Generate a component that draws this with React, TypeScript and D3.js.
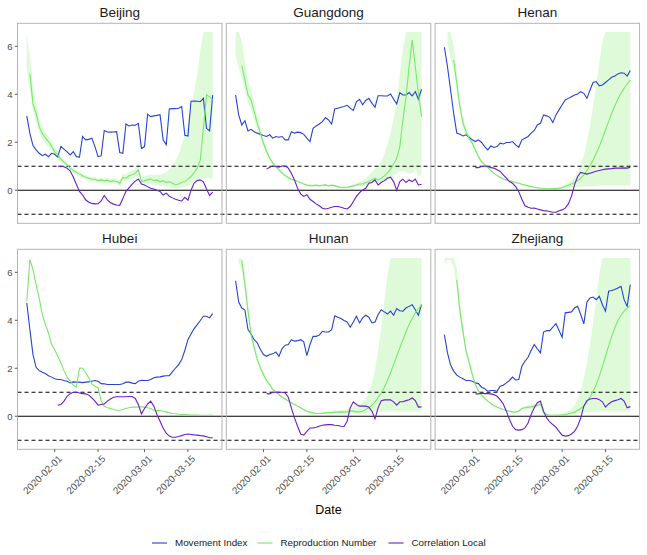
import React from 'react'
import * as d3 from 'd3'

// daily series, 2020-01-23 .. 2020-03-23 (61 days)
const dates = d3.timeDay.range(new Date(2020, 0, 23), new Date(2020, 2, 24))
const tickDates = [new Date(2020, 1, 1), new Date(2020, 1, 15), new Date(2020, 2, 1), new Date(2020, 2, 15)]
const tickLabels = ['2020-02-01', '2020-02-15', '2020-03-01', '2020-03-15']
const yTicks = [0, 2, 4, 6]
const provinces = ['Beijing', 'Guangdong', 'Henan', 'Hubei', 'Hunan', 'Zhejiang']
const seriesNames = ['Movement Index', 'Reproduction Number', 'Correlation Local']
const seriesColors = ['#2444d0', '#77ea68', '#6a1fc9']

const N = null
const nulls10 = [N, N, N, N, N, N, N, N, N, N]

const movementBeijing = [3.10, 2.37, 1.86, 1.68, 1.54, 1.44, 1.50, 1.40, 1.54, 1.50, 1.38, 1.82, 1.71, 1.60, 1.47, 1.61, 1.40, 1.38, 2.24, 2.10, 2.12, 2.17, 1.82, 1.40, 1.43, 2.49, 2.43, 2.42, 2.43, 2.44, 1.57, 1.54, 2.76, 2.68, 2.72, 2.71, 2.79, 1.74, 1.82, 3.17, 3.07, 3.10, 3.12, 3.15, 2.10, 1.89, 3.39, 3.40, 3.40, 3.42, 3.49, 2.29, 2.26, 3.71, 3.72, 3.71, 3.69, 3.83, 2.58, 2.47, 3.97]
const reproBeijing = [N, 4.85, 3.6, 3.2, 2.65, 2.37, 2.17, 2.03, 1.82, 1.6, 1.47, 1.3, 1.17, 1.06, 0.92, 0.82, 0.74, 0.67, 0.6, 0.54, 0.5, 0.46, 0.46, 0.4, 0.43, 0.39, 0.42, 0.36, 0.39, 0.36, 0.29, 0.53, 0.5, 0.6, 0.64, 0.71, 0.85, 0.36, 0.4, 0.43, 0.47, 0.4, 0.43, 0.36, 0.39, 0.32, 0.36, 0.29, 0.22, 0.26, 0.32, 0.36, 0.46, 0.57, 0.74, 0.92, 1.26, 2.6, 3.97, 3.9, 3.75]
const reproLoBeijing = [5.0, 4.2, 3.3, 2.85, 2.4, 2.15, 1.95, 1.8, 1.62, 1.45, 1.33, 1.18, 1.07, 0.96, 0.83, 0.73, 0.65, 0.58, 0.52, 0.46, 0.42, 0.38, 0.37, 0.32, 0.34, 0.3, 0.32, 0.27, 0.29, 0.25, 0.18, 0.4, 0.36, 0.45, 0.48, 0.53, 0.62, 0.22, 0.24, 0.25, 0.27, 0.2, 0.22, 0.16, 0.17, 0.12, 0.14, 0.1, 0.06, 0.08, 0.12, 0.14, 0.2, 0.27, 0.35, 0.42, 0.48, 0.5, 0.5, 0.5, 0.5]
const reproHiBeijing = [6.6, 5.6, 4.3, 3.6, 3.0, 2.65, 2.4, 2.25, 2.02, 1.78, 1.62, 1.42, 1.28, 1.16, 1.01, 0.91, 0.83, 0.76, 0.68, 0.62, 0.58, 0.54, 0.55, 0.48, 0.52, 0.48, 0.52, 0.46, 0.5, 0.48, 0.42, 0.68, 0.66, 0.76, 0.82, 0.92, 1.12, 0.52, 0.58, 0.62, 0.66, 0.62, 0.66, 0.64, 0.7, 0.75, 0.85, 1.0, 1.2, 1.5, 1.9, 2.3, 2.8, 3.4, 4.1, 4.8, 5.8, 6.6, 6.6, 6.6, 6.6]
const corrBeijing = [...nulls10, 1.0, 1.0, 0.98, 0.92, 0.8, 0.55, 0.25, -0.05, -0.2, -0.4, -0.5, -0.55, -0.57, -0.56, -0.45, -0.22, -0.4, -0.52, -0.58, -0.62, -0.63, -0.35, -0.05, 0.1, 0.25, 0.38, 0.47, 0.26, 0.22, 0.15, 0.08, 0.05, 0.0, -0.05, -0.2, -0.12, -0.25, -0.32, -0.38, -0.42, -0.45, -0.3, -0.42, 0.0, 0.3, 0.4, 0.43, 0.35, 0.05, -0.22, -0.08]

const movementGuangdong = [3.97, 3.14, 2.72, 2.9, 2.47, 2.54, 2.44, 2.38, 2.33, 2.28, 2.24, 2.31, 2.17, 2.24, 2.21, 2.24, 2.1, 2.1, 2.44, 2.38, 2.42, 2.4, 2.33, 2.17, 2.03, 2.58, 2.68, 2.76, 2.86, 3.03, 2.93, 2.76, 3.39, 3.42, 3.46, 3.49, 3.54, 3.42, 3.33, 3.69, 3.79, 3.56, 3.74, 3.83, 3.63, 3.46, 3.94, 3.94, 3.93, 3.93, 4.01, 3.79, 3.6, 4.07, 3.97, 3.97, 4.07, 3.93, 4.11, 3.79, 4.21]
const reproGuangdong = [N, N, 5.2, 4.6, 3.97, 3.76, 3.28, 2.79, 2.38, 1.96, 1.61, 1.33, 1.13, 0.99, 0.85, 0.71, 0.61, 0.53, 0.46, 0.42, 0.36, 0.32, 0.26, 0.22, 0.19, 0.19, 0.21, 0.18, 0.21, 0.22, 0.18, 0.21, 0.18, 0.15, 0.12, 0.11, 0.12, 0.15, 0.18, 0.22, 0.26, 0.26, 0.32, 0.36, 0.43, 0.5, 0.43, 0.5, 0.6, 0.71, 0.88, 1.08, 1.33, 1.82, 2.93, 3.9, 5.15, 6.26, 5.15, 4.04, 3.07]
const reproLoGuangdong = [5.6, 5.1, 4.7, 4.2, 3.6, 3.4, 2.95, 2.5, 2.15, 1.78, 1.47, 1.22, 1.04, 0.91, 0.78, 0.65, 0.56, 0.48, 0.42, 0.38, 0.32, 0.28, 0.22, 0.18, 0.15, 0.15, 0.17, 0.14, 0.17, 0.18, 0.14, 0.17, 0.14, 0.11, 0.08, 0.07, 0.08, 0.11, 0.13, 0.16, 0.19, 0.18, 0.22, 0.24, 0.28, 0.32, 0.26, 0.3, 0.35, 0.4, 0.5, 0.6, 0.7, 0.8, 0.8, 0.75, 0.7, 0.7, 0.9, 0.6, 0.6]
const reproHiGuangdong = [6.6, 6.6, 6.2, 5.3, 4.6, 4.2, 3.65, 3.1, 2.62, 2.15, 1.76, 1.44, 1.22, 1.07, 0.92, 0.77, 0.67, 0.58, 0.5, 0.46, 0.4, 0.36, 0.3, 0.26, 0.23, 0.23, 0.25, 0.22, 0.25, 0.26, 0.22, 0.25, 0.22, 0.19, 0.17, 0.16, 0.17, 0.2, 0.24, 0.3, 0.36, 0.4, 0.5, 0.6, 0.75, 0.9, 1.0, 1.2, 1.5, 1.9, 2.4, 3.0, 3.8, 4.8, 5.9, 6.6, 6.6, 6.6, 6.6, 6.6, 6.6]
const corrGuangdong = [...nulls10, 0.88, 0.96, 1.01, 0.99, 0.96, 1.01, 1.01, 0.92, 0.71, 0.43, 0.08, -0.15, -0.26, -0.19, -0.38, -0.47, -0.57, -0.65, -0.75, -0.78, -0.75, -0.71, -0.68, -0.68, -0.71, -0.75, -0.78, -0.68, -0.47, -0.26, -0.1, 0.01, 0.08, 0.29, 0.32, 0.43, 0.22, 0.32, 0.4, 0.5, 0.54, 0.36, -0.01, 0.36, 0.46, 0.32, 0.43, 0.36, 0.46, 0.22, 0.25]

const movementHenan = [5.96, 5.15, 4.18, 3.2, 2.38, 2.33, 2.26, 2.31, 2.21, 2.1, 2.03, 2.1, 1.99, 1.82, 1.68, 1.85, 1.78, 1.82, 1.96, 1.93, 1.99, 1.99, 2.03, 1.89, 1.79, 2.1, 2.17, 2.24, 2.38, 2.49, 2.72, 2.79, 3.14, 3.1, 3.04, 2.82, 3.14, 3.35, 3.56, 3.76, 3.83, 3.9, 3.97, 4.01, 4.11, 4.04, 3.83, 4.18, 4.49, 4.53, 4.35, 4.39, 4.49, 4.6, 4.71, 4.76, 4.85, 4.9, 4.88, 4.76, 4.99]
const reproHenan = [N, N, N, 5.43, 4.46, 3.49, 2.79, 2.44, 2.17, 1.96, 1.68, 1.4, 1.19, 1.06, 0.94, 0.82, 0.71, 0.61, 0.54, 0.47, 0.43, 0.39, 0.36, 0.32, 0.29, 0.25, 0.22, 0.18, 0.15, 0.12, 0.1, 0.08, 0.07, 0.06, 0.06, 0.06, 0.07, 0.08, 0.11, 0.15, 0.21, 0.26, 0.32, 0.39, 0.5, 0.64, 0.82, 1.03, 1.26, 1.54, 1.82, 2.17, 2.51, 2.86, 3.21, 3.51, 3.79, 4.04, 4.25, 4.43, 4.6]
const reproLoHenan = [N, 6.2, 5.5, 5.0, 4.1, 3.25, 2.62, 2.3, 2.06, 1.86, 1.6, 1.33, 1.13, 1.01, 0.9, 0.78, 0.68, 0.58, 0.51, 0.44, 0.4, 0.36, 0.33, 0.29, 0.26, 0.22, 0.19, 0.15, 0.12, 0.09, 0.07, 0.05, 0.04, 0.03, 0.03, 0.03, 0.03, 0.04, 0.05, 0.07, 0.09, 0.1, 0.12, 0.13, 0.14, 0.15, 0.16, 0.17, 0.18, 0.19, 0.2, 0.2, 0.2, 0.2, 0.2, 0.2, 0.2, 0.2, 0.2, 0.2, 0.2]
const reproHiHenan = [N, 6.6, 6.6, 6.0, 4.9, 3.8, 3.0, 2.6, 2.3, 2.07, 1.77, 1.47, 1.25, 1.11, 0.98, 0.86, 0.74, 0.64, 0.57, 0.5, 0.46, 0.42, 0.39, 0.35, 0.32, 0.28, 0.25, 0.21, 0.18, 0.15, 0.13, 0.11, 0.1, 0.09, 0.09, 0.1, 0.12, 0.14, 0.18, 0.24, 0.32, 0.42, 0.55, 0.75, 1.05, 1.45, 2.0, 2.7, 3.5, 4.4, 5.3, 6.2, 6.6, 6.6, 6.6, 6.6, 6.6, 6.6, 6.6, 6.6, 6.6]
const corrHenan = [...nulls10, 0.94, 0.94, 0.99, 1.01, 0.99, 0.94, 0.92, 0.85, 0.78, 0.64, 0.5, 0.36, 0.29, 0.15, -0.06, -0.38, -0.65, -0.71, -0.75, -0.74, -0.78, -0.82, -0.85, -0.86, -0.89, -0.92, -0.92, -0.86, -0.82, -0.75, -0.57, -0.26, 0.22, 0.57, 0.74, 0.71, 0.67, 0.71, 0.75, 0.79, 0.82, 0.85, 0.88, 0.89, 0.9, 0.92, 0.92, 0.92, 0.93, 0.92, 0.96]

const movementHubei = [4.72, 3.61, 2.57, 2.04, 1.9, 1.83, 1.78, 1.69, 1.63, 1.56, 1.53, 1.53, 1.49, 1.46, 1.39, 1.43, 1.42, 1.42, 1.4, 1.42, 1.43, 1.46, 1.49, 1.46, 1.36, 1.35, 1.32, 1.32, 1.32, 1.32, 1.32, 1.35, 1.42, 1.42, 1.38, 1.36, 1.46, 1.5, 1.49, 1.49, 1.53, 1.6, 1.63, 1.64, 1.67, 1.69, 1.69, 1.85, 2.01, 2.15, 2.36, 2.74, 3.19, 3.43, 3.65, 3.82, 3.99, 4.17, 4.17, 4.1, 4.28]
const reproHubei = [4.79, 6.53, 6.11, 5.49, 4.93, 4.24, 3.82, 3.47, 2.99, 2.78, 2.5, 2.22, 1.9, 1.63, 1.46, 1.29, 1.21, 2.0, 2.01, 1.81, 1.6, 1.35, 1.25, 1.18, 0.63, 0.42, 0.35, 0.32, 0.28, 0.25, 0.25, 0.28, 0.32, 0.35, 0.38, 0.38, 0.39, 0.39, 0.38, 0.35, 0.32, 0.25, 0.24, 0.24, 0.21, 0.18, 0.14, 0.11, 0.1, 0.08, 0.07, 0.07, 0.06, 0.05, 0.05, 0.05, 0.04, 0.04, 0.04, 0.04, 0.05]
const corrHubei = [...nulls10, 0.46, 0.49, 0.63, 0.83, 0.94, 1.0, 1.0, 0.97, 0.94, 0.93, 0.88, 0.76, 0.63, 0.46, 0.49, 0.51, 0.63, 0.72, 0.79, 0.81, 0.81, 0.81, 0.81, 0.82, 0.82, 0.74, 0.49, 0.1, 0.32, 0.51, 0.63, 0.42, 0.07, -0.21, -0.49, -0.71, -0.83, -0.88, -0.88, -0.85, -0.81, -0.76, -0.74, -0.76, -0.78, -0.79, -0.81, -0.82, -0.86, -0.9, -0.9]

const movementHunan = [5.65, 4.76, 4.51, 4.43, 3.61, 3.43, 3.19, 3.06, 2.78, 2.57, 2.5, 2.57, 2.6, 2.68, 2.5, 2.82, 2.96, 2.99, 3.19, 3.13, 3.15, 3.19, 3.1, 2.53, 2.99, 3.33, 3.33, 3.38, 3.54, 3.51, 3.51, 3.61, 4.19, 4.13, 4.07, 3.99, 3.93, 3.71, 3.93, 4.17, 3.89, 4.1, 4.21, 4.13, 3.89, 3.93, 4.24, 4.44, 4.35, 4.26, 4.38, 4.21, 4.49, 4.4, 4.38, 4.51, 4.58, 4.65, 4.44, 4.21, 4.65]
const reproHunan = [N, N, 6.5, 5.49, 4.38, 3.4, 2.85, 2.36, 2.01, 1.74, 1.49, 1.32, 1.11, 1.01, 0.9, 0.79, 0.72, 0.63, 0.56, 0.49, 0.42, 0.35, 0.28, 0.21, 0.17, 0.14, 0.11, 0.11, 0.12, 0.14, 0.15, 0.15, 0.17, 0.17, 0.18, 0.17, 0.18, 0.21, 0.21, 0.18, 0.18, 0.21, 0.28, 0.35, 0.46, 0.6, 0.76, 0.97, 1.21, 1.49, 1.81, 2.15, 2.5, 2.85, 3.19, 3.51, 3.82, 4.07, 4.31, 4.49, 4.63]
const reproLoHunan = [N, 6.4, 6.1, 5.2, 4.15, 3.22, 2.72, 2.25, 1.92, 1.66, 1.42, 1.26, 1.06, 0.96, 0.86, 0.75, 0.68, 0.6, 0.53, 0.46, 0.39, 0.32, 0.25, 0.18, 0.14, 0.11, 0.08, 0.08, 0.08, 0.09, 0.1, 0.1, 0.11, 0.11, 0.11, 0.1, 0.1, 0.11, 0.11, 0.1, 0.1, 0.11, 0.13, 0.15, 0.16, 0.17, 0.18, 0.19, 0.2, 0.2, 0.2, 0.2, 0.2, 0.2, 0.2, 0.2, 0.2, 0.2, 0.2, 0.2, 0.2]
const reproHiHunan = [N, 6.6, 6.6, 5.9, 4.65, 3.6, 3.0, 2.48, 2.1, 1.82, 1.56, 1.38, 1.16, 1.06, 0.94, 0.83, 0.76, 0.66, 0.59, 0.52, 0.45, 0.38, 0.31, 0.24, 0.2, 0.17, 0.14, 0.14, 0.16, 0.18, 0.2, 0.21, 0.23, 0.24, 0.26, 0.27, 0.3, 0.35, 0.4, 0.45, 0.5, 0.6, 0.75, 1.0, 1.35, 1.95, 2.75, 3.7, 4.8, 5.9, 6.6, 6.6, 6.6, 6.6, 6.6, 6.6, 6.6, 6.6, 6.6, 6.6, 6.6]
const corrHunan = [...nulls10, 0.94, 0.93, 1.0, 1.0, 1.0, 1.0, 0.97, 0.79, 0.35, -0.07, -0.42, -0.74, -0.79, -0.63, -0.49, -0.49, -0.46, -0.42, -0.38, -0.36, -0.35, -0.35, -0.38, -0.39, -0.42, -0.43, -0.21, 0.35, 0.6, 0.49, 0.42, 0.42, 0.42, 0.38, 0.21, -0.1, 0.35, 0.65, 0.68, 0.68, 0.68, 0.6, 0.46, 0.6, 0.6, 0.65, 0.69, 0.76, 0.65, 0.38, 0.39]

const movementZhejiang = [3.4, 2.64, 2.13, 1.88, 1.71, 1.63, 1.56, 1.49, 1.49, 1.46, 1.39, 1.36, 1.21, 1.15, 1.04, 1.07, 1.07, 1.04, 1.25, 1.29, 1.39, 1.49, 1.63, 1.51, 1.53, 2.08, 2.29, 2.46, 2.74, 2.99, 2.81, 2.64, 3.51, 3.57, 3.57, 3.71, 3.86, 3.57, 3.29, 4.31, 4.33, 4.35, 4.51, 4.58, 4.24, 3.85, 4.76, 4.93, 4.97, 4.86, 5.0, 4.65, 4.38, 5.21, 5.24, 5.28, 5.35, 5.42, 4.86, 4.58, 5.49]
const reproZhejiang = [N, N, N, N, 5.69, 4.38, 3.54, 2.71, 2.22, 1.74, 1.32, 1.04, 0.88, 0.74, 0.63, 0.53, 0.44, 0.38, 0.32, 0.28, 0.24, 0.21, 0.18, 0.17, 0.21, 0.32, 0.35, 0.38, 0.39, 0.42, 0.44, 0.51, 0.14, 0.07, 0.04, 0.04, 0.04, 0.04, 0.06, 0.07, 0.1, 0.13, 0.17, 0.24, 0.32, 0.43, 0.6, 0.79, 1.04, 1.32, 1.67, 2.08, 2.5, 2.92, 3.33, 3.68, 3.99, 4.21, 4.38, 4.51, 4.61]
const reproLoZhejiang = [6.35, 6.5, 6.5, 6.2, 5.3, 4.05, 3.3, 2.52, 2.08, 1.63, 1.24, 0.98, 0.83, 0.7, 0.59, 0.5, 0.41, 0.35, 0.29, 0.25, 0.21, 0.18, 0.15, 0.14, 0.17, 0.26, 0.28, 0.31, 0.32, 0.34, 0.36, 0.42, 0.1, 0.04, 0.02, 0.02, 0.02, 0.02, 0.03, 0.04, 0.05, 0.07, 0.09, 0.11, 0.13, 0.15, 0.17, 0.18, 0.19, 0.2, 0.2, 0.2, 0.2, 0.2, 0.2, 0.2, 0.2, 0.2, 0.2, 0.2, 0.2]
const reproHiZhejiang = [6.6, 6.6, 6.6, 6.6, 6.2, 4.75, 3.8, 2.9, 2.36, 1.85, 1.4, 1.1, 0.93, 0.78, 0.67, 0.57, 0.47, 0.41, 0.35, 0.31, 0.27, 0.24, 0.21, 0.2, 0.26, 0.38, 0.42, 0.46, 0.48, 0.5, 0.53, 0.6, 0.19, 0.1, 0.07, 0.07, 0.08, 0.09, 0.12, 0.16, 0.22, 0.3, 0.45, 0.7, 1.05, 1.55, 2.2, 3.0, 3.9, 4.9, 5.9, 6.6, 6.6, 6.6, 6.6, 6.6, 6.6, 6.6, 6.6, 6.6, 6.6]
const corrZhejiang = [...nulls10, 0.93, 0.93, 0.96, 0.94, 0.94, 0.93, 0.9, 0.83, 0.69, 0.51, 0.21, -0.14, -0.42, -0.56, -0.58, -0.56, -0.49, -0.28, 0.07, 0.35, 0.56, 0.63, 0.21, -0.07, -0.24, -0.35, -0.46, -0.63, -0.79, -0.83, -0.81, -0.74, -0.63, -0.42, -0.07, 0.42, 0.65, 0.72, 0.74, 0.74, 0.69, 0.6, 0.38, 0.51, 0.6, 0.65, 0.69, 0.74, 0.63, 0.35, 0.4]

type Val = number | null
const panels: { movement: Val[]; repro: Val[]; lo: Val[] | null; hi: Val[] | null; corr: Val[] }[] = [
  { movement: movementBeijing, repro: reproBeijing, lo: reproLoBeijing, hi: reproHiBeijing, corr: corrBeijing },
  { movement: movementGuangdong, repro: reproGuangdong, lo: reproLoGuangdong, hi: reproHiGuangdong, corr: corrGuangdong },
  { movement: movementHenan, repro: reproHenan, lo: reproLoHenan, hi: reproHiHenan, corr: corrHenan },
  { movement: movementHubei, repro: reproHubei, lo: null, hi: null, corr: corrHubei },
  { movement: movementHunan, repro: reproHunan, lo: reproLoHunan, hi: reproHiHunan, corr: corrHunan },
  { movement: movementZhejiang, repro: reproZhejiang, lo: reproLoZhejiang, hi: reproHiZhejiang, corr: corrZhejiang },
]

const W = 647
const H = 555
const panelLeft = 17.5
const panelW = 204.5
const colGap = 4.3
const rowTops = [23.3, 249.3]
const panelH = 200
const font = '"Liberation Sans", Arial, Helvetica, sans-serif'

export default function App() {
  const x = d3.scaleTime()
    .domain([d3.timeDay.offset(dates[0], -3), d3.timeDay.offset(dates[dates.length - 1], 3)])
    .range([0, panelW])
  const y = d3.scaleLinear().domain([-1.38, 6.96]).range([panelH, 0])

  const line = d3.line<Val>()
    .defined(v => v != null)
    .x((_, i) => x(dates[i]))
    .y(v => y(v as number))

  const rowRight = panelLeft + 2 * (panelW + colGap) + panelW

  return (
    <svg width={W} height={H} style={{ position: 'absolute', left: 0, top: 0, background: '#fff' }} fontFamily={font}>
      <defs>
        {provinces.map((_, i) => (
          <clipPath id={`clip${i}`} key={i}>
            <rect x={0} y={0} width={panelW} height={panelH} />
          </clipPath>
        ))}
      </defs>
      {rowTops.map((top, r) => (
        <g key={r}>
          {[0, 1, 2].map(c => {
            const idx = r * 3 + c
            const p = panels[idx]
            const left = panelLeft + c * (panelW + colGap)
            let ribbon: string | null = null
            if (p.lo && p.hi) {
              const lo = p.lo
              const hi = p.hi
              ribbon = d3.area<number>()
                .defined(i => lo[i] != null && hi[i] != null)
                .x(i => x(dates[i]))
                .y0(i => y(lo[i] as number))
                .y1(i => y(hi[i] as number))(d3.range(dates.length))
            }
            return (
              <g key={c} transform={`translate(${left},${top})`}>
                <text x={panelW / 2} y={-6} textAnchor="middle" fontSize={13.5} fill="#1a1a1a">{provinces[idx]}</text>
                <g clipPath={`url(#clip${idx})`}>
                  {ribbon && <path d={ribbon} fill="#c8f7c0" fillOpacity={0.6} />}
                </g>
              </g>
            )
          })}
          {/* reference lines across the whole row */}
          <g transform={`translate(0,${top})`}>
            <line x1={panelLeft} x2={rowRight} y1={y(0)} y2={y(0)} stroke="#000" strokeWidth={1.1} />
            {[1, -1].map(v => (
              <line key={v} x1={panelLeft} x2={rowRight} y1={y(v)} y2={y(v)} stroke="#000" strokeWidth={1.1} strokeDasharray="4,3" />
            ))}
          </g>
          {[0, 1, 2].map(c => {
            const idx = r * 3 + c
            const p = panels[idx]
            const left = panelLeft + c * (panelW + colGap)
            return (
              <g key={'l' + c} transform={`translate(${left},${top})`}>
                <g clipPath={`url(#clip${idx})`}>
                  <path d={line(p.movement) || ''} fill="none" stroke={seriesColors[0]} strokeWidth={1.1} />
                  <path d={line(p.repro) || ''} fill="none" stroke={seriesColors[1]} strokeWidth={1.1} />
                  <path d={line(p.corr) || ''} fill="none" stroke={seriesColors[2]} strokeWidth={1.1} />
                </g>
                <rect x={0} y={0} width={panelW} height={panelH} fill="none" stroke="#b3b3b3" strokeWidth={1} />
                {c === 0 && yTicks.map(t => (
                  <g key={t} transform={`translate(0,${y(t)})`}>
                    <line x1={-2.75} x2={0} stroke="#333" strokeWidth={0.8} />
                    <text x={-5} dy="0.35em" textAnchor="end" fontSize={9.6} fill="#4d4d4d">{t}</text>
                  </g>
                ))}
                {r === 1 && tickDates.map((d, i) => (
                  <g key={i} transform={`translate(${x(d)},${panelH})`}>
                    <line y1={0} y2={2.75} stroke="#333" strokeWidth={0.8} />
                    <text transform="translate(3,5) rotate(-45)" textAnchor="end" dy="0.72em" fontSize={9.8} fill="#4d4d4d">{tickLabels[i]}</text>
                  </g>
                ))}
              </g>
            )
          })}
        </g>
      ))}
      <text x={panelLeft + (rowRight - panelLeft) / 2} y={514} textAnchor="middle" fontSize={12.5} fill="#000">Date</text>
      {seriesNames.map((name, i) => {
        const keyX = [152, 257.5, 388.5][i]
        return (
          <g key={name} transform={`translate(${keyX},543)`}>
            <line x1={0} x2={15} stroke={seriesColors[i]} strokeWidth={1.1} />
            <text x={23} dy="0.35em" fontSize={9.8} fill="#1a1a1a">{name}</text>
          </g>
        )
      })}
    </svg>
  )
}
